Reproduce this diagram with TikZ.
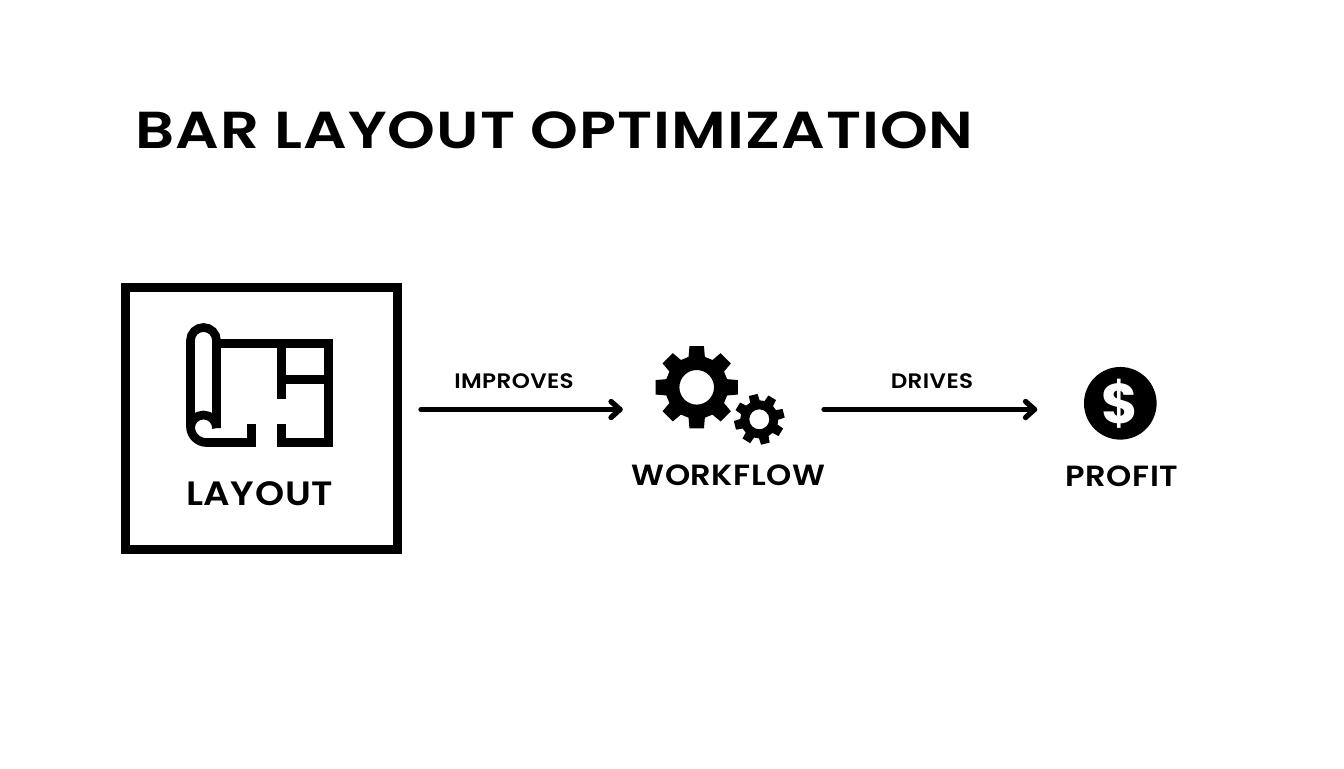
\documentclass[tikz,border=0pt]{standalone}
\usepackage{fontspec}
\newfontfamily\headfont[LetterSpace=2,FakeStretch=1.17]{Poppins SemiBold}
\newfontfamily\capfont[LetterSpace=2,FakeStretch=1.1]{Poppins SemiBold}
\newfontfamily\dollarfont{Poppins Bold}
\newcommand{\gearshape}[7]{% cx cy outer root hole teeth rot
  \fill[black,even odd rule]
    ({#1+#3*cos(#7-10)},{#2-#3*sin(#7-10)})
    \foreach \k in {0,...,\numexpr#6-1\relax}{
      -- ({#1+#3*cos(#7+\k*360/#6-10)},{#2-#3*sin(#7+\k*360/#6-10)})
      -- ({#1+#3*cos(#7+\k*360/#6+10)},{#2-#3*sin(#7+\k*360/#6+10)})
      -- ({#1+#4*cos(#7+\k*360/#6+15)},{#2-#4*sin(#7+\k*360/#6+15)})
      -- ({#1+#4*cos(#7+\k*360/#6+360/#6-15)},{#2-#4*sin(#7+\k*360/#6+360/#6-15)})
    } -- cycle
    (#1,#2) circle[radius=#5];
}
\begin{document}
\begin{tikzpicture}[x=0.75pt,y=-0.75pt,
  every node/.style={inner sep=0pt,outer sep=0pt,anchor=center,text=black},
  titletext/.style={font=\headfont\fontsize{39}{44}\selectfont},
  captext/.style={font=\capfont\fontsize{21.9}{26}\selectfont},
  boxtext/.style={font=\capfont\fontsize{25.3}{28}\selectfont},
  edgetext/.style={font=\capfont\fontsize{15.7}{18}\selectfont},
  iconline/.style={line width=6.5pt,line cap=butt,line join=miter},
  flow/.style={line width=4pt,line cap=round},
  chevron/.style={line width=4pt,line cap=round,line join=round}]
\useasboundingbox (0,0) rectangle (1344,768);
\fill[white] (0,0) rectangle (1344,768);
\node[titletext] (title) at (554.5,130) {BAR LAYOUT OPTIMIZATION};
% layout box
\node[draw=black,line width=6.75pt,minimum width=204pt,minimum height=196.5pt] (box) at (261.5,418.5) {};
\node[boxtext] (layout) at (259.5,494) {LAYOUT};
% blueprint icon
\draw[iconline] (216.5,428) -- (216.5,340.5) arc[start angle=0,end angle=-180,radius=13] -- (190.5,426.5)
  arc[start angle=180,end angle=90,radius=16] -- (251.5,442.5) -- (251.5,424);
\draw[iconline] (190.5,428) arc[start angle=180,end angle=360,radius=13];
\draw[iconline] (281.5,424) -- (281.5,442.5) -- (328.5,442.5) -- (328.5,343.5) -- (220,343.5);
\draw[iconline] (281.5,343.5) -- (281.5,399);
\draw[iconline] (281.5,379.5) -- (328.5,379.5);
% gears
\gearshape{696.7}{387.3}{41.7}{31.5}{17.3}{8}{90}
\gearshape{759.3}{419.3}{25.5}{19}{10}{8}{104}
\node[captext] (workflow) at (728.5,475) {WORKFLOW};
% profit
\node[circle,fill=black,minimum size=54.5pt] (coin) at (1120.3,403.3) {};
\node[font=\dollarfont\fontsize{42}{46}\selectfont,text=white] (dollar) at (1120.3,403.5) {\$};
\node[captext] (profit) at (1122,476) {PROFIT};
% arrows
\coordinate (a1s) at (421,409.4);
\coordinate (a1e) at (620,409.4);
\coordinate (a1u) at (611,401.5);
\coordinate (a1d) at (611,417.5);
\coordinate (a2s) at (824,409.4);
\coordinate (a2e) at (1034.5,409.4);
\coordinate (a2u) at (1025.5,401.5);
\coordinate (a2d) at (1025.5,417.5);
\draw[flow] (a1s) -- (a1e);
\draw[chevron] (a1u) -- (a1e) -- (a1d);
\draw[flow] (a2s) -- (a2e);
\draw[chevron] (a2u) -- (a2e) -- (a2d);
\node[edgetext] (improves) at (514,381) {IMPROVES};
\node[edgetext] (drives) at (932,381) {DRIVES};
\end{tikzpicture}
\end{document}
